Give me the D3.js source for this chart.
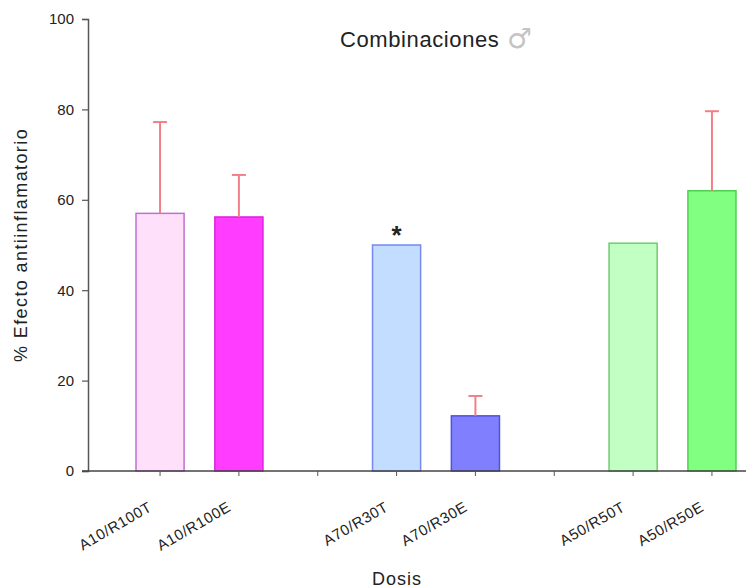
<!DOCTYPE html>
<html>
<head>
<meta charset="utf-8">
<script src="https://cdn.jsdelivr.net/npm/d3@7"></script>
<style>
  body { margin: 0; background: #fff; }
  text { font-family: "Liberation Sans", Arial, sans-serif; fill: #222; }
</style>
</head>
<body>
<svg id="chart" width="746" height="588"></svg>
<script>
// slots include two empty spacers between the groups
var categories = ['A10/R100T', 'A10/R100E', '', 'A70/R30T', 'A70/R30E', ' ', 'A50/R50T', 'A50/R50E'];
var values = [57, 56.2, null, 50, 12.2, null, 50.4, 62];
var errors = [20.2, 9.3, null, null, 4.4, null, null, 17.6];
var marks = ['', '', '', '*', '', '', '', ''];
var fills = ['#ffe0fa', '#ff3cff', null, '#c2ddff', '#8080ff', null, '#c2ffc2', '#80ff80'];
var strokes = ['#c070d0', '#dd22dd', null, '#7788ee', '#5050e0', null, '#70cc70', '#50d050'];
var yTicks = [0, 20, 40, 60, 80, 100];

var svg = d3.select('#chart');
var margin = {left: 88, top: 19, bottom: 471};

var x = d3.scaleBand()
    .domain(categories)
    .range([136, 736])
    .paddingInner(0.39)
    .paddingOuter(0);

var y = d3.scaleLinear()
    .domain([0, 100])
    .range([margin.bottom, margin.top]);

// y axis
var yAxis = svg.append('g')
    .attr('transform', 'translate(' + margin.left + ',0)')
    .call(d3.axisLeft(y).tickValues(yTicks).tickSize(6).tickPadding(8));
yAxis.select('.domain').attr('stroke', '#555').attr('stroke-width', 1.5);
yAxis.selectAll('.tick line').attr('stroke', '#555').attr('stroke-width', 1.2);
yAxis.selectAll('.tick text').style('font-size', '15px').attr('fill', '#222');

// bars
var data = categories.map(function (c, i) {
    return {cat: c, val: values[i], err: errors[i], mark: marks[i], fill: fills[i], stroke: strokes[i]};
}).filter(function (d) { return d.val !== null; });

svg.append('g').selectAll('rect')
    .data(data)
    .enter()
    .append('rect')
    .attr('x', function (d) { return x(d.cat); })
    .attr('width', x.bandwidth())
    .attr('y', function (d) { return y(d.val); })
    .attr('height', function (d) { return margin.bottom - y(d.val); })
    .attr('fill', function (d) { return d.fill; })
    .attr('stroke', function (d) { return d.stroke; })
    .attr('stroke-width', 1.5);

// error bars (upper only)
var errData = data.filter(function (d) { return d.err !== null; });
var eg = svg.append('g').attr('stroke', '#f08088').attr('stroke-width', 2);
eg.selectAll('line.v')
    .data(errData)
    .enter()
    .append('line')
    .attr('x1', function (d) { return x(d.cat) + x.bandwidth() / 2; })
    .attr('x2', function (d) { return x(d.cat) + x.bandwidth() / 2; })
    .attr('y1', function (d) { return y(d.val); })
    .attr('y2', function (d) { return y(d.val + d.err); });
eg.selectAll('line.h')
    .data(errData)
    .enter()
    .append('line')
    .attr('x1', function (d) { return x(d.cat) + x.bandwidth() / 2 - 7; })
    .attr('x2', function (d) { return x(d.cat) + x.bandwidth() / 2 + 7; })
    .attr('y1', function (d) { return y(d.val + d.err); })
    .attr('y2', function (d) { return y(d.val + d.err); });

// significance marks
svg.append('g').selectAll('text')
    .data(data.filter(function (d) { return d.mark; }))
    .enter()
    .append('text')
    .attr('x', function (d) { return x(d.cat) + x.bandwidth() / 2; })
    .attr('y', function (d) { return y(d.val) - 1; })
    .attr('text-anchor', 'middle')
    .style('font-size', '26px')
    .style('font-weight', 'bold')
    .text(function (d) { return d.mark; });

// x axis
var xAxis = svg.append('g')
    .attr('transform', 'translate(0,' + margin.bottom + ')')
    .call(d3.axisBottom(x).tickSize(5).tickSizeOuter(0));
xAxis.select('.domain').attr('d', 'M' + (margin.left - 6) + ',0H746').attr('stroke', '#444').attr('stroke-width', 1.5);
xAxis.selectAll('.tick line').attr('stroke', '#555');
xAxis.selectAll('.tick text')
    .style('font-size', '15px')
    .style('letter-spacing', '0.6px')
    .attr('fill', '#333')
    .attr('text-anchor', 'end')
    .attr('y', 0)
    .attr('dy', 0)
    .attr('transform', 'translate(-7,39) rotate(-30)');

// titles
var title = svg.append('text')
    .attr('x', 340)
    .attr('y', 47)
    .style('font-size', '22px')
    .style('letter-spacing', '0.6px');
title.append('tspan').text('Combinaciones');
title.append('tspan')
    .attr('x', 507)
    .attr('y', 48)
    .attr('fill', '#c4c4c4')
    .style('font-family', 'DejaVu Sans')
    .style('font-size', '28px')
    .text('\u2642');

svg.append('text')
    .attr('transform', 'translate(27,' + 245 + ') rotate(-90)')
    .attr('text-anchor', 'middle')
    .style('font-size', '18px')
    .style('letter-spacing', '1.4px')
    .attr('fill', '#333')
    .text('% Efecto  antiinflamatorio');

svg.append('text')
    .attr('x', 397)
    .attr('y', 585)
    .attr('text-anchor', 'middle')
    .style('font-size', '18px')
    .style('letter-spacing', '1px')
    .attr('fill', '#333')
    .text('Dosis');
</script>
</body>
</html>
